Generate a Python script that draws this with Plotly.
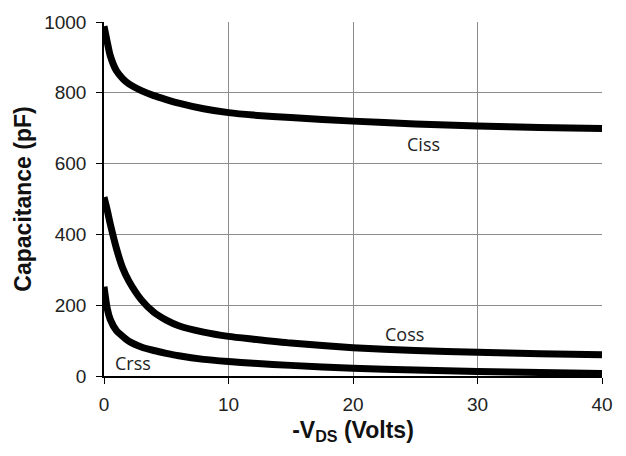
import plotly.graph_objects as go

# Drain-source voltage (magnitude, V)
vds = [0, 0.25, 0.5, 1, 1.5, 2, 3, 4, 5, 6, 8, 10, 12, 15, 20, 25, 30, 35, 40]

# Capacitances in pF
ciss = [988, 945, 905, 862, 840, 825, 806, 792, 781, 771, 755, 744, 737, 730, 720, 712, 706, 702, 699]
coss = [505, 470, 430, 360, 305, 268, 215, 180, 158, 142, 124, 112, 104, 93, 80, 72, 67, 63, 60]
crss = [252, 192, 160, 128, 112, 98, 82, 72, 64, 57, 47, 41, 36, 30, 22, 17, 13, 10, 7]

# Curve labels: (text, x, y)
labels = [("Ciss", 25.7, 656), ("Coss", 24.1, 119), ("Crss", 2.3, 36)]

x_ticks = [0, 10, 20, 30, 40]
y_ticks = [0, 200, 400, 600, 800, 1000]

fig = go.Figure()
for name, vals in [("Ciss", ciss), ("Coss", coss), ("Crss", crss)]:
    fig.add_trace(go.Scatter(
        x=vds, y=vals, mode="lines", name=name,
        line=dict(color="black", width=7, shape="spline", smoothing=0.6),
        showlegend=False,
    ))

for text, x, y in labels:
    fig.add_annotation(x=x, y=y, text=text, showarrow=False,
                       font=dict(family="Open Sans", size=18, color="#222"))

axis_font = dict(family="Liberation Sans, Arial", size=19, color="#222")
title_font = dict(family="Liberation Sans, Arial", size=23, color="#111")

fig.update_xaxes(
    range=[0, 40], tickvals=x_ticks, showgrid=True, gridcolor="#8c8c8c", gridwidth=1,
    showline=True, linecolor="black", linewidth=1.5, ticks="outside", ticklen=6,
    tickcolor="black", tickfont=axis_font, zeroline=False, ticklabelstandoff=4,
    title=dict(text="<b>-V<sub>DS</sub> (Volts)</b>", font=title_font, standoff=8),
)
fig.update_yaxes(
    range=[0, 1000], tickvals=y_ticks, showgrid=True, gridcolor="#8c8c8c", gridwidth=1,
    showline=True, linecolor="black", linewidth=1.5, ticks="outside", ticklen=6,
    tickcolor="black", tickfont=axis_font, zeroline=False, ticklabelstandoff=6,
    title=dict(text="<b>Capacitance (pF)</b>", font=title_font, standoff=6),
)

fig.update_layout(
    width=626, height=456,
    margin=dict(l=104, r=24, t=16, b=80),
    paper_bgcolor="white", plot_bgcolor="white",
)

fig.write_html("out.html")
